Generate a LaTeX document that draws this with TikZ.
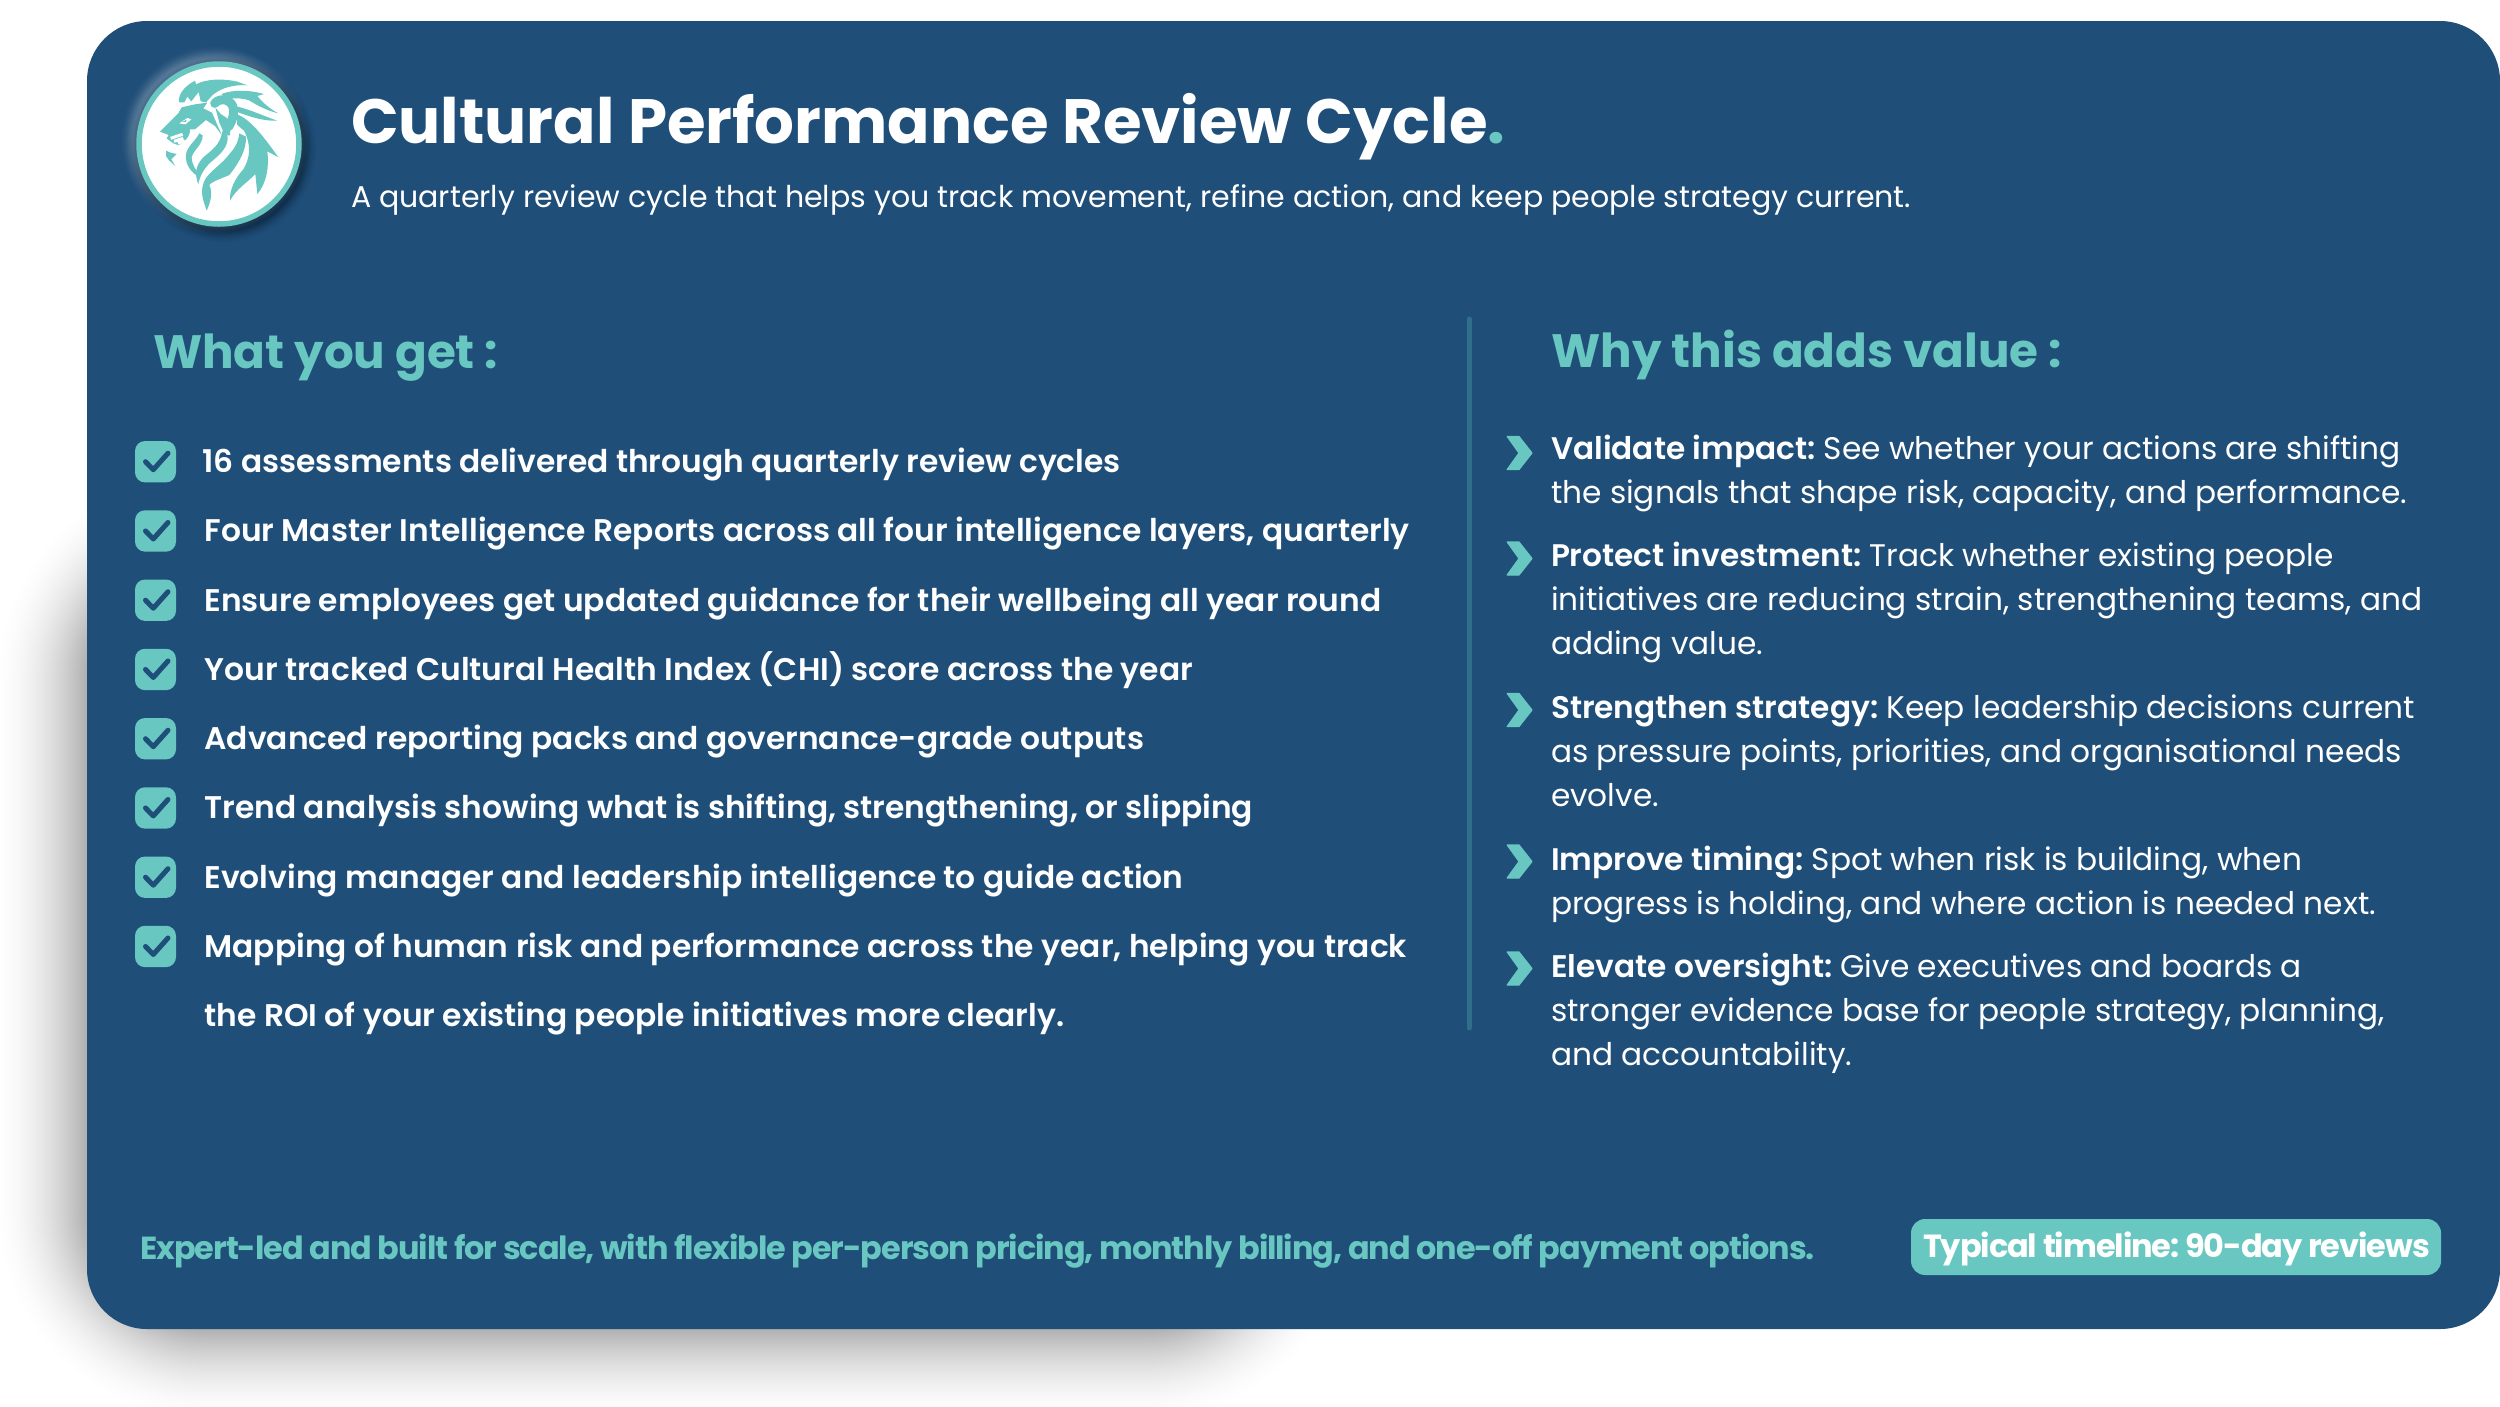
\documentclass[tikz,border=0pt]{standalone}
\usepackage{fontspec}
\setmainfont{Poppins}
\newfontfamily\popsemi{Poppins SemiBold}
\newfontfamily\popbold{Poppins}[UprightFont=*-Bold,LetterSpace=-3.4]
\newfontfamily\popboldt{Poppins}[UprightFont=*-Bold]
\definecolor{panel}{HTML}{1F4E79}
\definecolor{teal}{HTML}{69C7C1}
\definecolor{rule}{HTML}{316E8C}
\frenchspacing
\begin{document}
\begin{tikzpicture}[x=1pt,y=-1pt,
  txt/.style={anchor=base west,inner sep=0pt,outer sep=0pt,text=white},
  listtxt/.style={txt,font=\popsemi\fontsize{31.3}{34}\selectfont},
  valtxt/.style={txt,font=\fontsize{31.2}{36}\selectfont},
  headtxt/.style={txt,text=teal,font=\popboldt\fontsize{46.8}{52}\selectfont},
  tick/.style={draw=panel,line width=5pt,line cap=round,line join=round},
  chev/.style={fill=teal,draw=teal,line width=1.2pt,line join=round},
  lionfill/.style={fill=teal}]
\useasboundingbox (0,0) rectangle (2500,1406);
\begin{scope}
\clip (0,0) rectangle (2500,1406);
% soft shadow
\foreach \i in {1,...,80}{
  \pgfmathsetmacro{\d}{100*(1-sqrt(\i/80))}
  \pgfmathsetmacro{\r}{\d+120}
  \fill[black,opacity=0.0058,rounded corners=\r pt] (87-\d,560-\d) rectangle (1265+\d,1329+\d);
}
\fill[panel,rounded corners=60pt] (87,21) rectangle (2500,1329);
\end{scope}
% logo glow and shadow
\foreach \i in {1,...,16}{
  \pgfmathsetmacro{\rr}{82+15*(1-sqrt(\i/16))}
  \fill[white,opacity=0.02] (215,140) circle (\rr);
}
\foreach \i in {1,...,16}{
  \pgfmathsetmacro{\rr}{82+15*(1-sqrt(\i/16))}
  \fill[black,opacity=0.025] (223,149) circle (\rr);
}
\node[circle,fill=white,draw=teal,line width=5.5pt,minimum size=160pt,inner sep=0pt] (logo) at (219,144) {};
% lion
\begin{scope}[shift={(150,70)},scale=1/3]
\fill[lionfill] (88,97) .. controls (82,78) and (100,50) .. (135,32) -- (138,43) .. controls (165,28) and (215,24) .. (262,35) -- (292,46) .. controls (255,43) and (215,52) .. (188,75) -- (168,97) -- (152,94) -- (146,66) -- (124,94) -- (112,80) -- (103,97) -- cycle;
\fill[lionfill] (30,185) -- (60,155) -- (85,130) -- (95,112) -- (135,103) -- (172,98) -- (160,115) -- (186,128) -- (200,160) -- (216,196) -- (195,168) -- (168,150) -- (135,178) -- (120,178) .. controls (122,195) and (110,210) .. (86,226) -- (70,220) -- (50,205) -- (56,195) -- cycle;
\fill[white] (88,160) -- (112,144) -- (124,148) -- (106,163) -- cycle;
\fill[lionfill] (96,156) -- (110,149) -- (108,156) -- cycle;
\draw[white,line width=3pt] (62,205) -- (98,193) (72,214) -- (100,205) (84,220) -- (104,212);
\fill[lionfill] (48,242) -- (62,248) -- (80,252) -- (64,268) -- (76,288) -- (58,272) -- (48,258) -- cycle;
\draw[draw=teal,fill=none,line width=9pt,line cap=round] (194,100) .. controls (210,82) and (240,88) .. (248,108) .. controls (255,130) and (248,150) .. (236,170);
\fill[lionfill] (196,112) -- (212,132) -- (232,145) -- (240,172) -- (240,196) -- (232,196) -- (218,180) -- (208,158) -- cycle;
\fill[lionfill] (215,72) .. controls (250,58) and (300,60) .. (342,72) -- (322,78) .. controls (340,100) and (362,118) .. (385,130) .. controls (350,122) and (320,105) .. (295,90) .. controls (270,84) and (245,82) .. (228,90) -- cycle;
\fill[lionfill] (255,108) .. controls (300,118) and (340,138) .. (382,152) .. controls (340,154) and (300,140) .. (256,124) -- cycle;
\fill[lionfill] (258,132) .. controls (300,145) and (345,205) .. (385,262) -- (352,244) .. controls (358,290) and (350,340) .. (322,372) -- (316,312) .. controls (290,340) and (260,355) .. (240,392) .. controls (238,360) and (255,325) .. (280,298) .. controls (300,265) and (305,225) .. (282,182) -- (262,165) -- cycle;
\fill[lionfill] (288,200) .. controls (290,235) and (270,275) .. (238,315) .. controls (215,325) and (185,335) .. (178,345) .. controls (190,370) and (180,400) .. (170,422) .. controls (162,395) and (148,370) .. (162,335) .. controls (175,305) and (215,285) .. (240,250) .. controls (255,235) and (265,215) .. (268,190) -- cycle;
\fill[lionfill] (232,195) .. controls (238,225) and (215,250) .. (190,270) .. controls (165,290) and (150,315) .. (145,342) .. controls (132,310) and (138,285) .. (160,262) .. controls (185,240) and (212,225) .. (218,180) -- cycle;
\fill[lionfill] (158,196) .. controls (158,225) and (130,240) .. (125,262) .. controls (125,285) and (140,300) .. (150,322) .. controls (125,310) and (105,285) .. (108,255) .. controls (110,230) and (135,215) .. (148,190) -- cycle;
\end{scope}
% title
\node[txt,font=\popboldt\fontsize{62.6}{68}\selectfont] (title) at (351,143) {Cultural Performance Review Cycle\textcolor{teal}{.}};
\node[txt,font=\fontsize{30}{38}\selectfont] (sub) at (351,207.5) {A quarterly review cycle that helps you track movement, refine action, and keep people strategy current.};
\node[headtxt] (h1) at (153,368.5) {What you get :};
\node[headtxt] (h2) at (1551.5,367.5) {Why this adds value :};
\draw[rule,line width=5pt,line cap=round] (1469,319) -- (1469,1028);
% check icons
\foreach \k [evaluate=\k as \cy using 461.7+69.25*\k] in {0,...,7}{
  \fill[teal,rounded corners=10pt] (135,\cy-20.7) rectangle (176,\cy+20.7);
  \draw[tick] (145.5,\cy) -- (153.3,\cy+8) -- (168,\cy-8.5);
}
\node[listtxt] (l1) at (202.5,472.5) {16 assessments delivered through quarterly review cycles};
\node[listtxt] (l2) at (204.5,541.75) {Four Master Intelligence Reports across all four intelligence layers, quarterly};
\node[listtxt] (l3) at (204.5,611) {Ensure employees get updated guidance for their wellbeing all year round};
\node[listtxt] (l4) at (204.5,680.25) {Your tracked Cultural Health Index (CHI) score across the year};
\node[listtxt] (l5) at (204.5,749.5) {Advanced reporting packs and governance-grade outputs};
\node[listtxt] (l6) at (204.5,818.75) {Trend analysis showing what is shifting, strengthening, or slipping};
\node[listtxt] (l7) at (204.5,888) {Evolving manager and leadership intelligence to guide action};
\node[listtxt] (l8) at (204.5,957.25) {Mapping of human risk and performance across the year, helping you track};
\node[listtxt] (l9) at (204.5,1026) {the ROI of your existing people initiatives more clearly.};
% chevrons
\foreach \cy in {453,558.5,710,861.5,968.5}{
  \filldraw[chev] (1507.2,\cy-16.5) -- (1519,\cy-16.5) -- (1532,\cy) -- (1519,\cy+16.5) -- (1507.2,\cy+16.5) -- (1519,\cy) -- cycle;
}
\node[valtxt] (v1) at (1551,459.5) {{\popsemi Validate impact:} See whether your actions are shifting};
\node[valtxt] (v2) at (1551,503.5) {the signals that shape risk, capacity, and performance.};
\node[valtxt] (v3) at (1551,566.5) {{\popsemi Protect investment:} Track whether existing people};
\node[valtxt] (v4) at (1551,610.5) {initiatives are reducing strain, strengthening teams, and};
\node[valtxt] (v5) at (1551,654) {adding value.};
\node[valtxt] (v6) at (1551,718) {{\popsemi Strengthen strategy:} Keep leadership decisions current};
\node[valtxt] (v7) at (1551,762.5) {as pressure points, priorities, and organisational needs};
\node[valtxt] (v8) at (1551,806) {evolve.};
\node[valtxt] (v9) at (1551,870) {{\popsemi Improve timing:} Spot when risk is building, when};
\node[valtxt] (v10) at (1551,914.5) {progress is holding, and where action is needed next.};
\node[valtxt] (v11) at (1551,977.5) {{\popsemi Elevate oversight:} Give executives and boards a};
\node[valtxt] (v12) at (1551,1021.5) {stronger evidence base for people strategy, planning,};
\node[valtxt] (v13) at (1551,1065.5) {and accountability.};
% footer
\node[txt,text=teal,font=\popbold\fontsize{31.9}{36}\selectfont] (foot) at (140.5,1259.5) {Expert-led and built for scale, with flexible per-person pricing, monthly billing, and one-off payment options.};
\fill[teal,rounded corners=14pt] (1911,1219) rectangle (2441,1275);
\node[txt,font=\popbold\fontsize{32}{36}\selectfont] (pill) at (1923,1257.5) {Typical timeline: 90-day reviews};
\end{tikzpicture}
\end{document}
